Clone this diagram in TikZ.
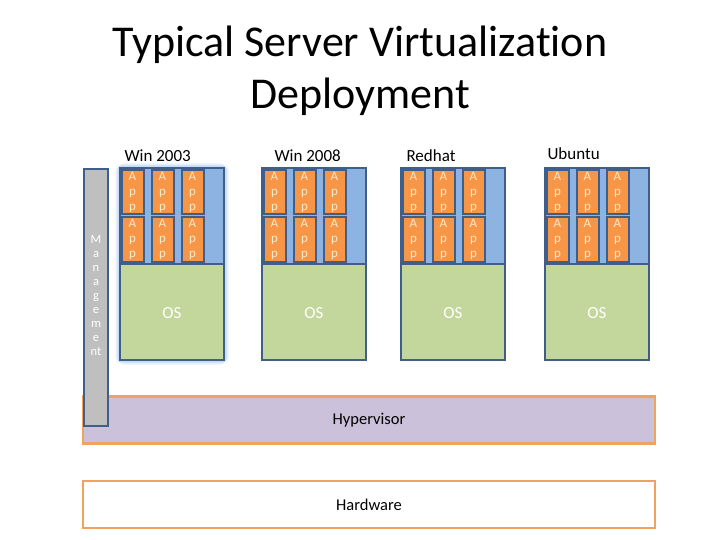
\documentclass[tikz,border=0pt]{standalone}
\usepackage{fontspec}
\setmainfont{Carlito}[Ligatures=NoCommon]
\definecolor{bord}{HTML}{3F5E8A}
\definecolor{apporange}{HTML}{F79646}
\definecolor{apptext}{HTML}{FCE9C8}
\definecolor{stripblue}{HTML}{8DB3E2}
\definecolor{osgreen}{HTML}{C3D69B}
\definecolor{lav}{HTML}{CCC1DA}
\definecolor{layerorange}{HTML}{F0A35E}
\definecolor{mgmtgray}{HTML}{BFBFBF}
\definecolor{glowblue}{HTML}{9CC3EC}
\begin{document}
\begin{tikzpicture}[x=1pt,y=-1pt,
  vmbox/.style={draw=bord, line width=2.5pt},
  appbox/.style={draw=bord, fill=apporange, line width=2pt, minimum width=22pt, minimum height=44pt,
    inner sep=0pt, text=apptext, font=\fontsize{13}{15}\selectfont, align=center},
  ostext/.style={text=white, font=\fontsize{17}{20}\selectfont},
  vmlabel/.style={font=\fontsize{17}{20}\selectfont, anchor=base west},
  layer/.style={draw=layerorange, line width=2.5pt, minimum width=572pt, minimum height=47pt, inner sep=0pt,
    font=\fontsize{16.5}{19}\selectfont},
  titletext/.style={font=\fontsize{44}{52}\selectfont, anchor=base}
]
\useasboundingbox (0,0) rectangle (720,540);

% title
\node[titletext] (title1) at (360,57) {Typical Server Virtualization};
\node[titletext] (title2) at (360,109) {Deployment};

% glow around first VM
\draw[glowblue, line width=9pt, opacity=0.25, rounded corners=4pt] (120,168) rectangle (224,360);
\draw[glowblue, line width=5pt, opacity=0.45, rounded corners=2pt] (120,168) rectangle (224,360);

% virtual machines
\foreach \L/\n/\lab/\lx/\ly in {120/1/Win 2003/121/162, 262/2/Win 2008/271/162, 401/3/Redhat/403/162, 545/4/Ubuntu/544/160}{
  \node[vmlabel] (lab\n) at (\lx,\ly) {\lab};
  \fill[stripblue] (\L,168) rectangle (\L+104,264);
  \fill[osgreen] (\L,264) rectangle (\L+104,360);
  \node[ostext] (os\n) at (\L+52,313) {OS};
  \draw[vmbox] (\L,264) -- (\L+104,264);
  \draw[vmbox] (\L,168) rectangle (\L+104,360);
  \foreach \c in {0,1,2}{
    \node[appbox] (app\n-\c-1) at (\L+12.5+30*\c,192.5) {A\\p\\p};
    \node[appbox] (app\n-\c-2) at (\L+12.5+30*\c,239.5) {A\\p\\p};
  }
}

% hypervisor and hardware
\node[layer, fill=lav] (hyp) at (369,420) {Hypervisor};
\node[layer, fill=white] (hw) at (369,504.5) {Hardware};

% management bar
\node[draw=bord, fill=mgmtgray, line width=2.5pt, minimum width=24pt, minimum height=257pt, inner sep=0pt]
  (mgmt) at (96,297.5) {};
\node[text=white, align=center, font=\fontsize{12.5}{14}\selectfont] (mgmttext) at (96,296)
  {M\\a\\n\\a\\g\\e\\m\\e\\nt};
\end{tikzpicture}
\end{document}
